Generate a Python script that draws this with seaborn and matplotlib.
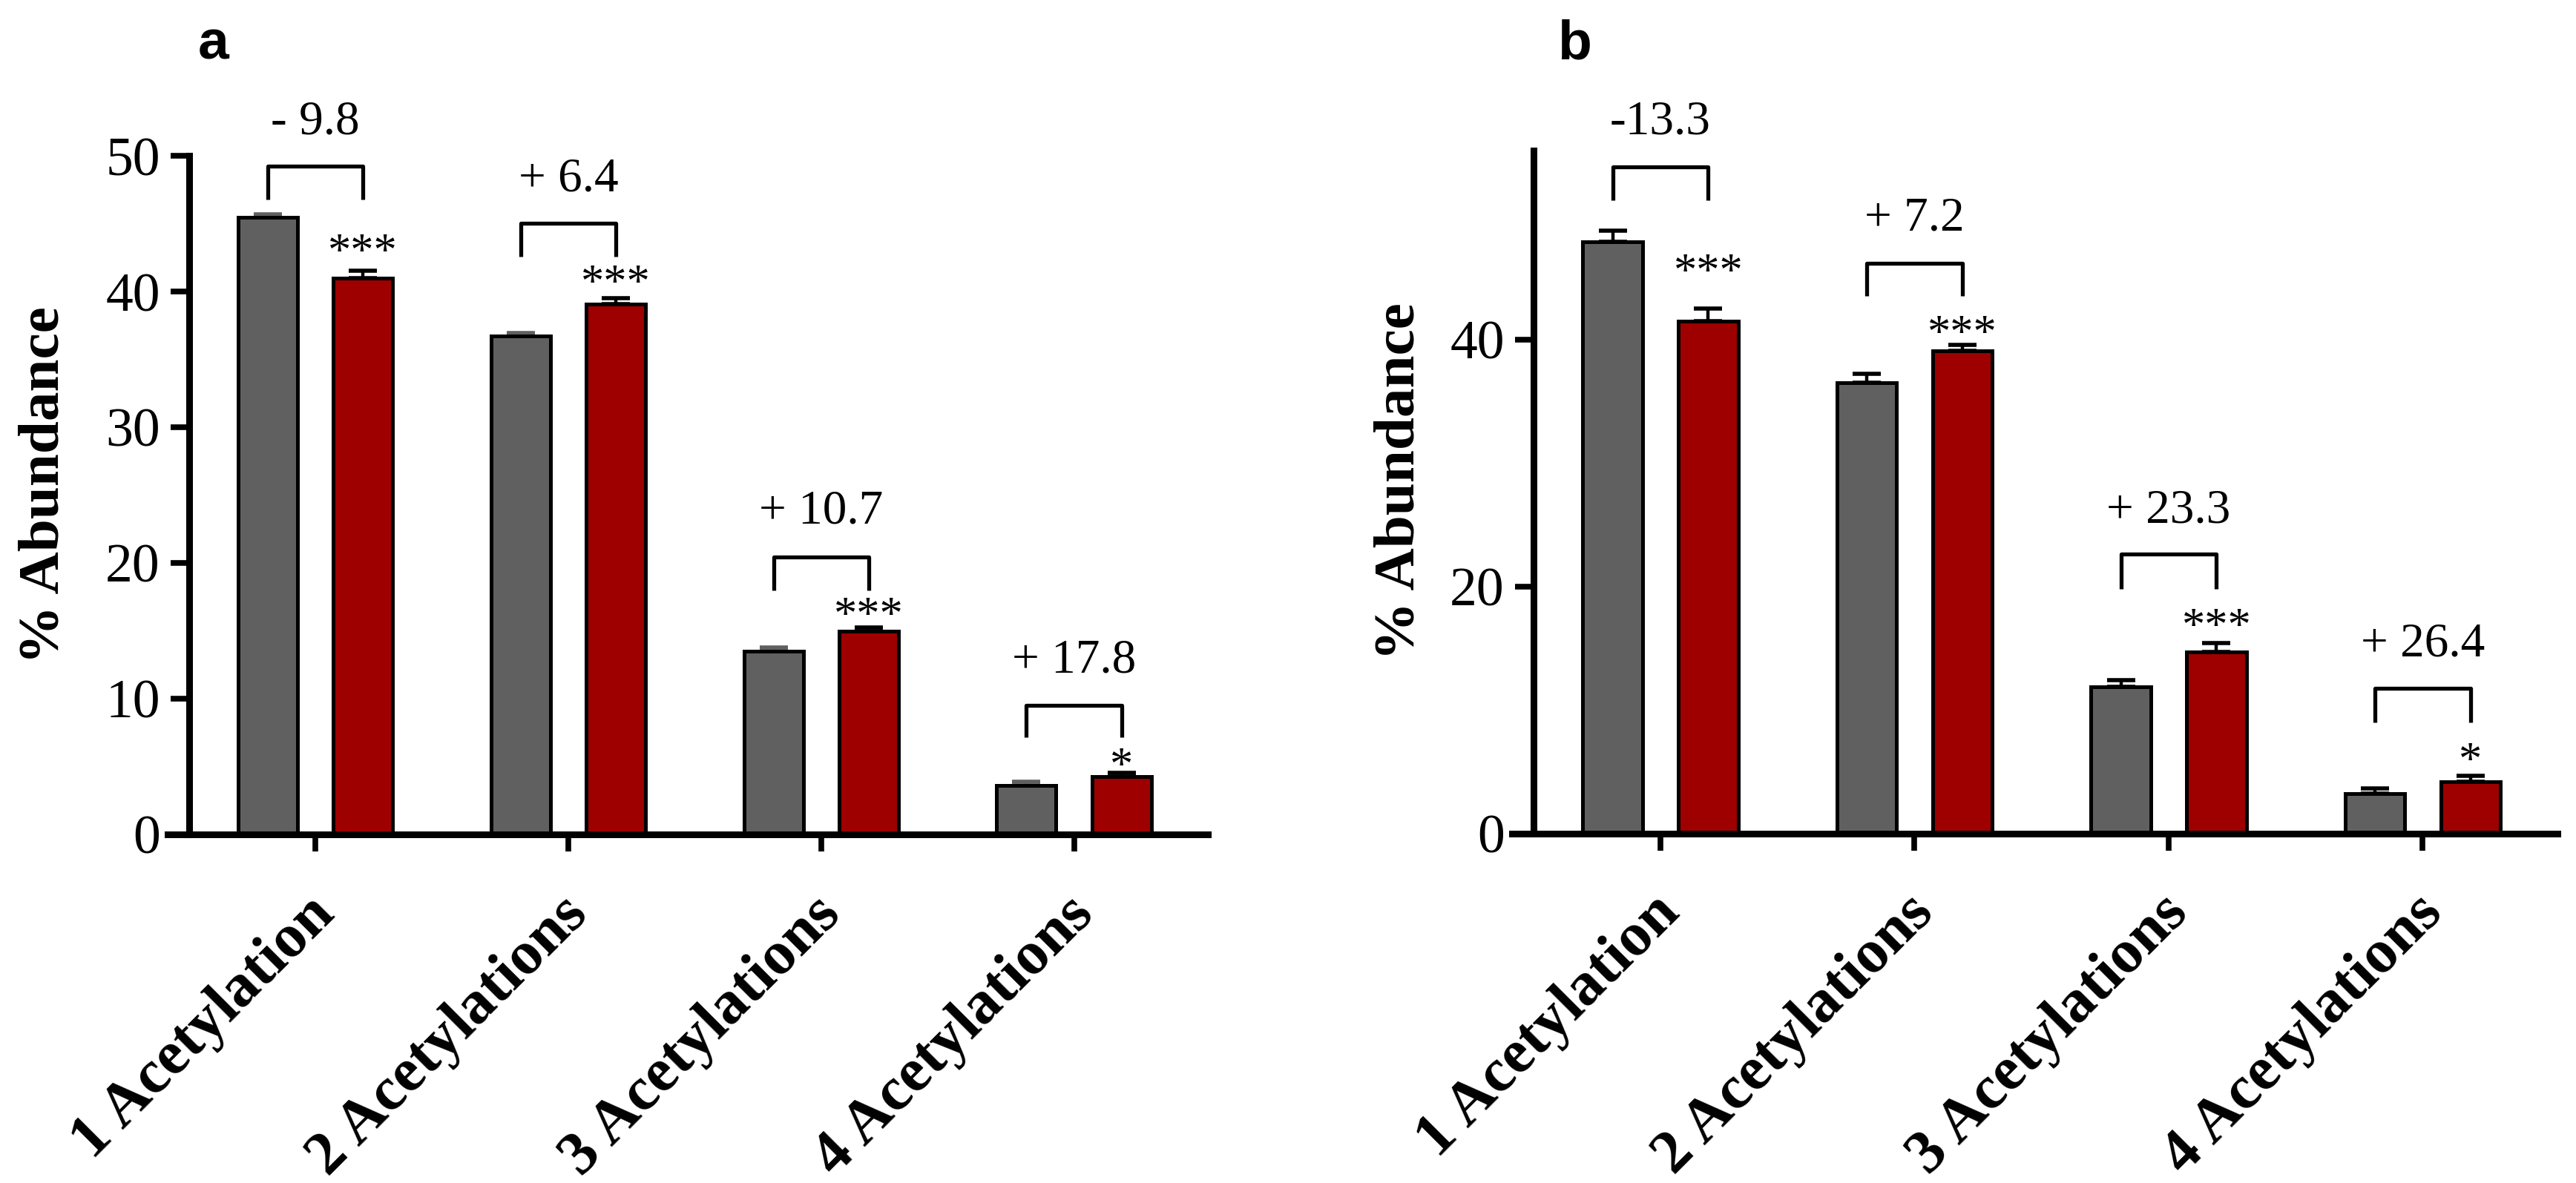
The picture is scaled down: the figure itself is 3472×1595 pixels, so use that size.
import numpy as np
import pandas as pd
import matplotlib
matplotlib.use("Agg")
import matplotlib.pyplot as plt
import matplotlib.transforms as mtransforms
import seaborn as sns

sns.set_style("ticks")
plt.rcParams["font.family"] = ["Liberation Serif", "DejaVu Serif"]
plt.rcParams.update({"text.color": "black", "axes.edgecolor": "black",
                     "axes.labelcolor": "black", "xtick.color": "black",
                     "ytick.color": "black"})

categories = ["1 Acetylation", "2 Acetylations", "3 Acetylations", "4 Acetylations"]
groups = ["Control", "Treated"]

# panel a
a_ctrl = [45.5, 36.75, 13.5, 3.6]
a_ctrl_err = [0.2, 0.2, 0.25, 0.3]
a_trt = [41.0, 39.1, 14.95, 4.25]
a_trt_err = [0.55, 0.4, 0.3, 0.3]
a_change = ["- 9.8", "+ 6.4", "+ 10.7", "+ 17.8"]
a_stars = ["***", "***", "***", "*"]
a_bracket_top = [49.25, 45.06, 20.45, 9.5]
a_bracket_leg = [46.8, 42.6, 17.96, 7.14]
a_change_y = [52.5, 48.3, 23.8, 12.8]
a_star_y = [43.7, 41.4, 16.9, 5.8]

# panel b
b_ctrl = [47.9, 36.5, 11.85, 3.2]
b_ctrl_err = [0.9, 0.7, 0.55, 0.42]
b_trt = [41.5, 39.1, 14.7, 4.17]
b_trt_err = [1.0, 0.45, 0.72, 0.5]
b_change = ["-13.3", "+ 7.2", "+ 23.3", "+ 26.4"]
b_stars = ["***", "***", "***", "*"]
b_bracket_top = [54.0, 46.2, 22.6, 11.75]
b_bracket_leg = [51.3, 43.5, 19.8, 9.0]
b_change_y = [57.6, 49.8, 26.1, 15.3]
b_star_y = [46.3, 41.3, 17.6, 6.7]

grey = "#606060"
red = "#9e0000"

fig = plt.figure(figsize=(34.73, 15.95), dpi=100)
ax_a = fig.add_axes([0.0650, 0.2947, 0.4038, 0.5734])
ax_b = fig.add_axes([0.5867, 0.2956, 0.4058, 0.5771])


def panel(ax, ctrl, ctrl_err, trt, trt_err, change, stars, br_top, br_leg,
          change_y, star_y, yticks, ytop, ctrl_err_color, letter, label_x):
    df = pd.DataFrame({
        "acetylation": categories * 2,
        "abundance": ctrl + trt,
        "group": [groups[0]] * 4 + [groups[1]] * 4,
    })
    sns.barplot(data=df, x="acetylation", y="abundance", hue="group",
                hue_order=groups, palette=[grey, red], width=0.752, gap=0.375,
                edgecolor="black", linewidth=3.6, errorbar=None, legend=False,
                saturation=1, ax=ax)
    bars = sorted(ax.patches, key=lambda p: p.get_x())
    xc = [p.get_x() + p.get_width() / 2 for p in bars]
    x_ctrl = xc[0::2]
    x_trt = xc[1::2]

    ax.errorbar(x_ctrl, ctrl, yerr=[np.zeros(4), ctrl_err], fmt="none",
                ecolor=ctrl_err_color, elinewidth=3.2, capsize=13.5, capthick=4,
                zorder=0)
    ax.errorbar(x_trt, trt, yerr=[np.zeros(4), trt_err], fmt="none",
                ecolor="black", elinewidth=3.2, capsize=13.5, capthick=4,
                zorder=0)

    # asterisk glyphs sit high in the line box, nudge them down a bit
    star_shift = mtransforms.ScaledTranslation(0, -0.17, fig.dpi_scale_trans)
    for i in range(4):
        ax.plot([x_ctrl[i], x_ctrl[i], x_trt[i], x_trt[i]],
                [br_leg[i], br_top[i], br_top[i], br_leg[i]],
                color="black", lw=3.8, clip_on=False, solid_capstyle="butt")
        ax.text((x_ctrl[i] + x_trt[i]) / 2, change_y[i], change[i],
                ha="center", va="center", fontsize=47, clip_on=False)
        ax.text(x_trt[i], star_y[i], stars[i], ha="center", va="center",
                fontsize=45, clip_on=False,
                transform=ax.transData + star_shift)

    ax.set_xlim(-0.585, 3.53)
    ax.set_ylim(0, ytop)
    ax.set_yticks(yticks)
    ax.spines["top"].set_visible(False)
    ax.spines["right"].set_visible(False)
    ax.spines["left"].set_position(("data", -0.5))
    ax.spines["left"].set_linewidth(6.5)
    ax.spines["bottom"].set_linewidth(6.5)
    ax.tick_params(axis="y", length=18, width=5.5, pad=10, labelsize=53)
    ax.tick_params(axis="x", length=16.5, width=5.5, pad=30)
    ax.set_xlabel("")
    ax.set_xticks(range(4))
    ax.set_xticklabels(categories, rotation=45, ha="right", va="top",
                       rotation_mode="anchor", fontsize=60, fontweight="bold")
    offset = mtransforms.ScaledTranslation(-0.12, -0.05, fig.dpi_scale_trans)
    for t in ax.get_xticklabels():
        t.set_transform(t.get_transform() + offset)
    ax.set_ylabel("% Abundance", fontsize=57, fontweight="bold", va="center")
    ax.yaxis.set_label_coords(label_x, 0.515)
    fig.text(ax.get_position().x0 + 0.0118 + (0.006 if letter == "b" else 0),
             1 - 80 / 1595, letter, fontsize=54, fontweight="bold",
             family="Liberation Sans", ha="left", va="baseline")


panel(ax_a, a_ctrl, a_ctrl_err, a_trt, a_trt_err, a_change, a_stars,
      a_bracket_top, a_bracket_leg, a_change_y, a_star_y,
      [0, 10, 20, 30, 40, 50], 50, grey, "a", -0.118)
panel(ax_b, b_ctrl, b_ctrl_err, b_trt, b_trt_err, b_change, b_stars,
      b_bracket_top, b_bracket_leg, b_change_y, b_star_y,
      [0, 20, 40], 55.3, "black", "b", -0.107)

fig.savefig("out.png", dpi=100)
